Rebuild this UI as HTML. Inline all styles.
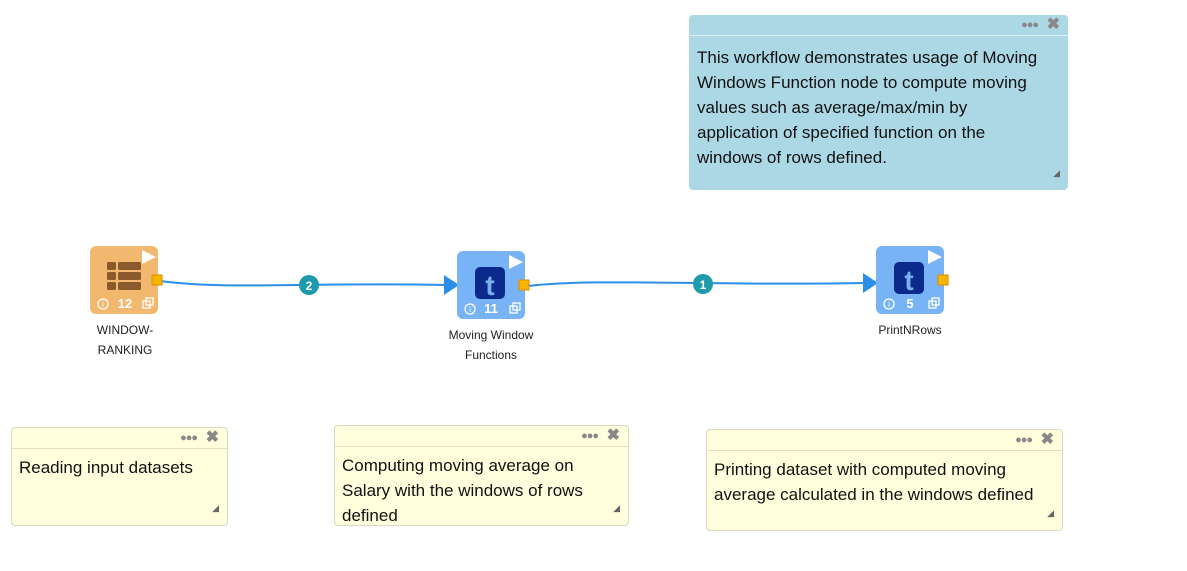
<!DOCTYPE html>
<html><head><meta charset="utf-8"><style>
body{margin:0;width:1187px;height:571px;background:#fff;position:relative;overflow:hidden;font-family:"Liberation Sans",Arial,sans-serif}
.note{position:absolute;border-radius:4px;box-sizing:border-box;color:#111;font-size:17px;line-height:25px;white-space:nowrap}
.note .hd{height:20px;border-bottom:1px solid rgba(255,255,255,.6);position:relative}
.yel .hd{border-bottom:1px solid #e2e0c0}
.note .dots{position:absolute;top:4px;right:30px;font-size:11px;letter-spacing:-1px;color:#888;line-height:12px}
.note .x{position:absolute;top:1px;right:8px;font-size:16px;font-weight:bold;color:#888;line-height:18px}
.note .tx{padding:3px 7px}
.note .rs{position:absolute;right:8px;bottom:4px;font-size:9px;color:#666}
.blue{background:#acd8e6}
.yel{background:#ffffdd;border:1px solid #d8d8c0}
.node{position:absolute;width:68px;height:68px;border-radius:6px}
.lbl{position:absolute;font-size:12px;color:#222;text-align:center;line-height:20px}
</style></head><body>
<div class="note blue" style="left:689px;top:15px;width:379px;height:175px">
<div class="hd"><span class="dots">●●●</span><span class="x">✖</span></div>
<div class="tx" style="padding-top:9px;padding-left:8px">This workflow demonstrates usage of Moving<br>Windows Function node to compute moving<br>values such as average/max/min by<br>application of specified function on the<br>windows of rows defined.</div>
<span class="rs">◢</span></div>

<div class="note yel" style="left:11px;top:427px;width:217px;height:99px">
<div class="hd"><span class="dots">●●●</span><span class="x">✖</span></div>
<div class="tx" style="padding-top:6px">Reading input datasets</div><span class="rs">◢</span></div>
<div class="note yel" style="left:334px;top:425px;width:295px;height:101px">
<div class="hd"><span class="dots">●●●</span><span class="x">✖</span></div>
<div class="tx" style="padding-top:6px">Computing moving average on<br>Salary with the windows of rows<br>defined</div><span class="rs">◢</span></div>
<div class="note yel" style="left:706px;top:429px;width:357px;height:102px">
<div class="hd"><span class="dots">●●●</span><span class="x">✖</span></div>
<div class="tx" style="padding-top:6px">Printing dataset with computed moving<br>average calculated in the windows defined</div><span class="rs">◢</span></div>

<svg width="1187" height="571" style="position:absolute;left:0;top:0">
<path d="M160 281 C 230 290, 300 282, 447 285" stroke="#2b8ee8" stroke-width="2" fill="none"/>
<polygon points="444,275 459,285 444,295" fill="#2b8ee8"/>
<path d="M528 286 C 600 278, 700 286, 866 283" stroke="#2b8ee8" stroke-width="2" fill="none"/>
<polygon points="863,273 878,283 863,293" fill="#2b8ee8"/>
<circle cx="309" cy="285" r="10" fill="#1e9aaa"/><text x="309" y="290" font-size="12" font-weight="bold" fill="#fff" text-anchor="middle" font-family="Liberation Sans">2</text>
<circle cx="703" cy="284" r="10" fill="#1e9aaa"/><text x="703" y="289" font-size="12" font-weight="bold" fill="#fff" text-anchor="middle" font-family="Liberation Sans">1</text>
</svg>

<!-- node 1 -->
<div class="node" style="left:90px;top:246px;background:#f2b86f"></div>
<svg width="80" height="80" style="position:absolute;left:90px;top:246px">
<polygon points="52,4 66,11 52,18" fill="#fff"/>
<g fill="#8a5a2a"><rect x="17" y="16" width="9" height="8" rx="1.5"/><rect x="28" y="16" width="23" height="8" rx="1.5"/><rect x="17" y="26" width="9" height="8" rx="1.5"/><rect x="28" y="26" width="23" height="8" rx="1.5"/><rect x="17" y="36" width="9" height="8" rx="1.5"/><rect x="28" y="36" width="23" height="8" rx="1.5"/></g>
<rect x="62" y="29" width="10" height="10" fill="#f7b500" stroke="#e08a00"/>
<circle cx="13" cy="58" r="5" fill="none" stroke="#fff" stroke-width="1.3"/><text x="13" y="61" font-size="8" fill="#fff" text-anchor="middle">i</text>
<text x="35" y="62" font-size="13" font-weight="bold" fill="#fff" text-anchor="middle" font-family="Liberation Sans">12</text>
<rect x="53" y="55" width="7" height="7" fill="none" stroke="#fff" stroke-width="1.3"/><rect x="56" y="52" width="7" height="7" fill="none" stroke="#fff" stroke-width="1.3"/>
</svg>
<div class="lbl" style="left:75px;top:320px;width:100px">WINDOW-<br>RANKING</div>

<!-- node 2 -->
<div class="node" style="left:457px;top:251px;background:#78b4f5"></div>
<svg width="80" height="80" style="position:absolute;left:457px;top:251px">
<polygon points="52,4 66,11 52,18" fill="#fff"/>
<rect x="18" y="16" width="30" height="32" rx="5" fill="#0b2a8c"/>
<text x="33" y="44" font-size="28" font-weight="bold" fill="#7ab0ee" text-anchor="middle" font-family="Liberation Sans">t</text>
<rect x="62" y="29" width="10" height="10" fill="#f7b500" stroke="#e08a00"/>
<circle cx="13" cy="58" r="5" fill="none" stroke="#fff" stroke-width="1.3"/><text x="13" y="61" font-size="8" fill="#fff" text-anchor="middle">i</text>
<text x="34" y="62" font-size="13" font-weight="bold" fill="#fff" text-anchor="middle" font-family="Liberation Sans">11</text>
<rect x="53" y="55" width="7" height="7" fill="none" stroke="#fff" stroke-width="1.3"/><rect x="56" y="52" width="7" height="7" fill="none" stroke="#fff" stroke-width="1.3"/>
</svg>
<div class="lbl" style="left:431px;top:325px;width:120px">Moving Window<br>Functions</div>

<!-- node 3 -->
<div class="node" style="left:876px;top:246px;background:#78b4f5"></div>
<svg width="80" height="80" style="position:absolute;left:876px;top:246px">
<polygon points="52,4 66,11 52,18" fill="#fff"/>
<rect x="18" y="16" width="30" height="32" rx="5" fill="#0b2a8c"/>
<text x="33" y="44" font-size="28" font-weight="bold" fill="#7ab0ee" text-anchor="middle" font-family="Liberation Sans">t</text>
<rect x="62" y="29" width="10" height="10" fill="#f7b500" stroke="#e08a00"/>
<circle cx="13" cy="58" r="5" fill="none" stroke="#fff" stroke-width="1.3"/><text x="13" y="61" font-size="8" fill="#fff" text-anchor="middle">i</text>
<text x="34" y="62" font-size="13" font-weight="bold" fill="#fff" text-anchor="middle" font-family="Liberation Sans">5</text>
<rect x="53" y="55" width="7" height="7" fill="none" stroke="#fff" stroke-width="1.3"/><rect x="56" y="52" width="7" height="7" fill="none" stroke="#fff" stroke-width="1.3"/>
</svg>
<div class="lbl" style="left:860px;top:320px;width:100px">PrintNRows</div>
</body></html>
